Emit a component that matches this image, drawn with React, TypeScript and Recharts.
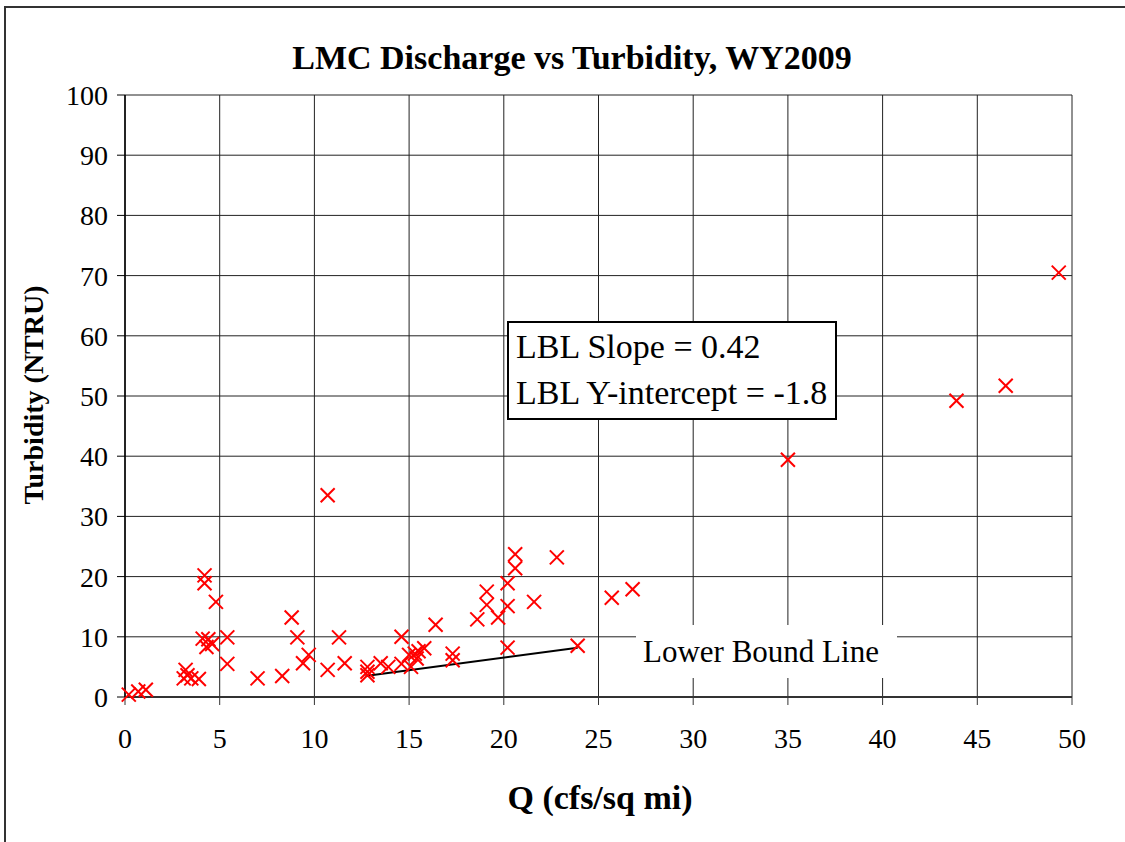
import React from "react";
import {
  ScatterChart,
  Scatter,
  XAxis,
  YAxis,
  CartesianGrid,
  ReferenceLine,
} from "recharts";

// discharge Q (cfs/sq mi) and turbidity (NTRU)
const discharge = [
  0.2, 0.7, 1.1, 3.1, 3.2, 3.3, 3.5, 3.9, 4.2, 4.2, 4.8, 4.1, 4.4, 4.3, 4.6,
  5.4, 5.4, 7.0, 8.3, 8.8, 9.1, 9.4, 9.7, 10.7, 10.7, 11.3, 11.6, 12.8, 12.8,
  12.8, 13.5, 13.9, 14.6, 14.6, 15.0, 15.1, 15.3, 15.5, 15.8, 15.4, 16.4, 17.3,
  17.3, 18.6, 19.1, 19.1, 19.7, 20.2, 20.2, 20.2, 20.6, 20.6, 22.8, 21.6, 23.9,
  25.7, 26.8, 35.0, 43.9, 46.5, 49.3,
];
const turbidity = [
  0.4, 0.9, 1.2, 3.1, 4.5, 3.6, 3.1, 3.0, 20.2, 18.9, 15.8, 9.7, 9.6, 8.3, 8.8,
  9.9, 5.5, 3.1, 3.5, 13.2, 9.9, 5.6, 7.0, 4.5, 33.5, 9.9, 5.6, 5.0, 4.2, 3.6,
  5.6, 5.0, 10.0, 5.5, 7.0, 5.0, 7.2, 7.6, 8.1, 6.4, 12.0, 7.2, 6.1, 12.9, 17.5,
  15.3, 13.2, 18.9, 15.1, 8.2, 23.7, 21.4, 23.2, 15.8, 8.5, 16.5, 17.9, 39.4,
  49.2, 51.7, 70.5,
];

// lower bound line end points
const lblQ = [12.7, 23.9];
const lblT = [3.5, 8.2];

const xTicks = [0, 5, 10, 15, 20, 25, 30, 35, 40, 45, 50];
const yTicks = [0, 10, 20, 30, 40, 50, 60, 70, 80, 90, 100];

const points = discharge.map((q, i) => ({ q, t: turbidity[i] }));

const serif = "Liberation Serif, Times New Roman, serif";

const Cross = (props: any) => {
  const { cx, cy } = props;
  const s = 7;
  return (
    <g stroke="#ff0000" strokeWidth={2}>
      <line x1={cx - s} y1={cy - s} x2={cx + s} y2={cy + s} />
      <line x1={cx - s} y1={cy + s} x2={cx + s} y2={cy - s} />
    </g>
  );
};

export default function App() {
  return (
    <div
      style={{
        position: "absolute",
        left: 0,
        top: 0,
        width: 1125,
        height: 842,
        overflow: "hidden",
        background: "#fff",
        fontFamily: serif,
      }}
    >
      <div
        style={{
          position: "absolute",
          left: 4,
          top: 6,
          width: 1200,
          height: 900,
          border: "2px solid #333",
        }}
      />
      <ScatterChart
        width={1125}
        height={842}
        margin={{ top: 95, right: 53, left: 65, bottom: 95 }}
        style={{ position: "absolute", left: 0, top: 0 }}
      >
        <CartesianGrid stroke="#222" strokeWidth={1} />
        <XAxis
          type="number"
          dataKey="q"
          domain={[0, 50]}
          ticks={xTicks}
          height={50}
          tickSize={8}
          tickMargin={23}
          interval={0}
          stroke="#333"
          axisLine={{ stroke: "#333", strokeWidth: 2 }}
          tick={{ fill: "#000", fontSize: 28, fontFamily: serif }}
        />
        <YAxis
          type="number"
          dataKey="t"
          domain={[0, 100]}
          ticks={yTicks}
          width={60}
          tickSize={8}
          tickMargin={9}
          interval={0}
          stroke="#000"
          axisLine={{ stroke: "#000", strokeWidth: 1.5 }}
          tick={{ fill: "#000", fontSize: 28, fontFamily: serif }}
        />
        <ReferenceLine
          segment={[
            { x: lblQ[0], y: lblT[0] },
            { x: lblQ[1], y: lblT[1] },
          ]}
          stroke="#000"
          strokeWidth={2}
          ifOverflow="visible"
        />
        <Scatter
          data={points}
          shape={<Cross />}
          isAnimationActive={false}
        />
      </ScatterChart>

      <div
        style={{
          position: "absolute",
          left: 636,
          top: 625,
          width: 261,
          height: 53,
          background: "#fff",
          fontSize: 31,
          lineHeight: "53px",
          paddingLeft: 7,
          boxSizing: "border-box",
          color: "#000",
          whiteSpace: "nowrap",
        }}
      >
        Lower Bound Line
      </div>

      <div
        style={{
          position: "absolute",
          left: 507,
          top: 321,
          width: 330,
          height: 99,
          background: "#fff",
          border: "2px solid #000",
          boxSizing: "border-box",
          fontSize: 34,
          lineHeight: "46px",
          paddingLeft: 7,
          paddingTop: 1,
          color: "#000",
          whiteSpace: "nowrap",
        }}
      >
        <div>LBL Slope = 0.42</div>
        <div>LBL Y-intercept = -1.8</div>
      </div>

      <svg
        width={1125}
        height={842}
        style={{ position: "absolute", left: 0, top: 0, pointerEvents: "none" }}
      >
        <text
          x={572}
          y={69}
          textAnchor="middle"
          fontFamily={serif}
          fontWeight="bold"
          fontSize={34}
        >
          LMC Discharge vs Turbidity, WY2009
        </text>
        <text
          x={600}
          y={809}
          textAnchor="middle"
          fontFamily={serif}
          fontWeight="bold"
          fontSize={34}
        >
          Q (cfs/sq mi)
        </text>
        <text
          x={43}
          y={395}
          textAnchor="middle"
          fontFamily={serif}
          fontWeight="bold"
          fontSize={28}
          transform="rotate(-90 43 395)"
        >
          Turbidity (NTRU)
        </text>
      </svg>
    </div>
  );
}
